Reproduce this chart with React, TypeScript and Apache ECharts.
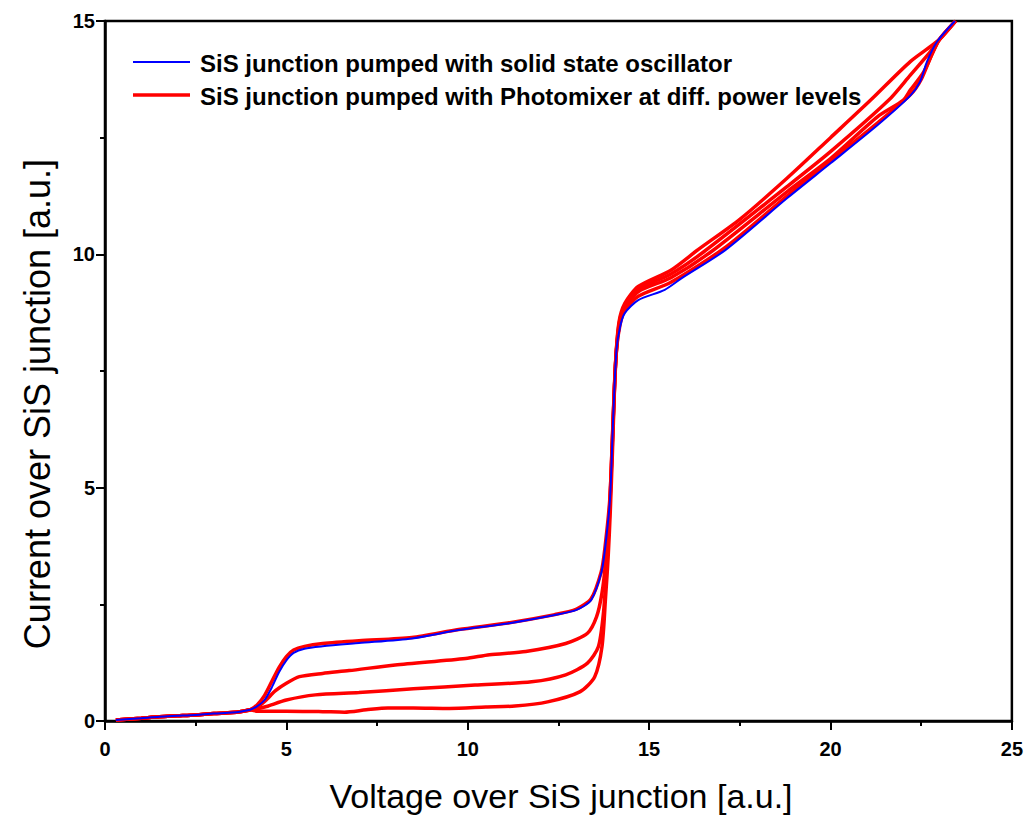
import React, { useEffect, useRef } from "react";
import * as echarts from "echarts";

const xTicks = [0, 5, 10, 15, 20, 25];
const yTicks = [0, 5, 10, 15];

const xTitle = "Voltage over SiS junction [a.u.]";
const yTitle = "Current over SiS junction [a.u.]";
const legendBlue = "SiS junction pumped with solid state oscillator";
const legendRed = "SiS junction pumped with Photomixer at diff. power levels";

const commonStart: number[][] = [
  [0.3, 0.02], [1.0, 0.06], [1.5, 0.09], [2.0, 0.11], [2.5, 0.13], [3.0, 0.16],
  [3.5, 0.18], [3.8, 0.21], [4.0, 0.24],
];

const bluePumped: number[][] = [
  [4.2, 0.32], [4.4, 0.45], [4.6, 0.72], [4.8, 1.05], [5.0, 1.3], [5.2, 1.46],
  [5.5, 1.55], [6.0, 1.6], [7.0, 1.67], [8.46, 1.77], [9.75, 1.95], [11.1, 2.09],
  [12.4, 2.27], [13.0, 2.38], [13.4, 2.59], [13.68, 3.17], [13.78, 3.66],
  [13.92, 4.74], [14.01, 6.52], [14.1, 7.95], [14.2, 8.45], [14.33, 8.74],
  [14.7, 9.02], [15.43, 9.24], [15.9, 9.49], [17.1, 10.09], [18.8, 11.2],
  [20.0, 11.95], [21.3, 12.77], [22.2, 13.4], [22.47, 13.7], [22.66, 14.13],
  [22.94, 14.56], [23.43, 15.0],
];

const redLevel1: number[][] = [
  [4.2, 0.35], [4.4, 0.55], [4.6, 0.85], [4.8, 1.15], [5.0, 1.38], [5.2, 1.52],
  [5.5, 1.6], [6.0, 1.66], [7.0, 1.72], [8.46, 1.79], [9.75, 1.96], [11.1, 2.1],
  [12.4, 2.28], [13.0, 2.4], [13.4, 2.62], [13.68, 3.2], [13.78, 3.7],
  [13.92, 4.8], [14.01, 6.5], [14.1, 7.95], [14.2, 8.5], [14.33, 8.8],
  [14.7, 9.1], [15.6, 9.4], [17.1, 10.15], [18.8, 11.25], [20.0, 12.0],
  [21.3, 12.82], [22.2, 13.42], [22.5, 13.75], [22.8, 14.3], [23.0, 14.6], [23.45, 15.0],
];

const redLevel2: number[][] = [
  [4.2, 0.3], [4.4, 0.42], [4.7, 0.65], [5.0, 0.81], [5.36, 0.95], [6.0, 1.02],
  [6.73, 1.08], [8.0, 1.2], [9.94, 1.34], [10.6, 1.42], [11.6, 1.49], [12.7, 1.66],
  [13.3, 1.88], [13.55, 2.23], [13.7, 2.74], [13.8, 3.4], [13.9, 4.4], [13.98, 5.9],
  [14.07, 7.6], [14.17, 8.45], [14.33, 8.85], [14.7, 9.2], [15.6, 9.5],
  [16.7, 10.05], [18.8, 11.34], [20.0, 12.05], [21.3, 12.95], [22.0, 13.3],
  [22.2, 13.52], [22.57, 13.91], [23.0, 14.6], [23.45, 15.0],
];

const redLevel3: number[][] = [
  [4.2, 0.26], [4.45, 0.31], [5.0, 0.45], [5.8, 0.56], [7.0, 0.61], [8.5, 0.69],
  [10.2, 0.77], [11.76, 0.84], [12.7, 0.99], [13.3, 1.24], [13.6, 1.59],
  [13.74, 2.31], [13.82, 3.2], [13.9, 4.3], [13.98, 5.8], [14.07, 7.6],
  [14.17, 8.5], [14.33, 8.9], [14.7, 9.25], [15.6, 9.58], [16.5, 10.05],
  [18.8, 11.45], [20.0, 12.2], [21.6, 13.3], [22.2, 13.84], [22.75, 14.34],
  [23.0, 14.6], [23.45, 15.0],
];

const redLevel4: number[][] = [
  [4.2, 0.21], [5.0, 0.21], [6.0, 0.2], [6.6, 0.19], [7.2, 0.24], [7.8, 0.28],
  [8.5, 0.28], [9.5, 0.27], [10.5, 0.3], [11.3, 0.32], [12.2, 0.41], [13.1, 0.63],
  [13.5, 0.95], [13.7, 1.59], [13.8, 2.66], [13.87, 3.5], [13.93, 4.5],
  [13.99, 5.8], [14.07, 7.6], [14.17, 8.55], [14.33, 8.95], [14.7, 9.31],
  [15.6, 9.66], [16.35, 10.1], [17.5, 10.75], [18.8, 11.63], [20.0, 12.5],
  [21.1, 13.3], [22.2, 14.13], [23.0, 14.6], [23.45, 15.0],
];

const font = "'Liberation Sans', Arial, sans-serif";

export default function App() {
  const ref = useRef<HTMLDivElement>(null);
  useEffect(() => {
    if (!ref.current) return;
    const chart = echarts.init(ref.current, undefined, { renderer: "svg" });
    const lineBase = {
      type: "line",
      showSymbol: false,
      symbol: "none",
      smooth: 0.25,
    };
    const redSeries = [redLevel1, redLevel2, redLevel3, redLevel4].map((d) => ({
      ...lineBase,
      name: legendRed,
      data: [...commonStart, ...d],
      lineStyle: { color: "#ff0000", width: 3.5 },
      itemStyle: { color: "#ff0000" },
    }));
    chart.setOption({
      animation: false,
      backgroundColor: "#ffffff",
      grid: {
        left: 105, right: 10, top: 21, bottom: 97,
        show: true, borderColor: "#000", borderWidth: 2.5,
      },
      graphic: [
        { type: "line", shape: { x1: 133, y1: 62, x2: 190, y2: 62 }, style: { stroke: "#0000ff", lineWidth: 2 } },
        { type: "line", shape: { x1: 133, y1: 95, x2: 190, y2: 95 }, style: { stroke: "#ff0000", lineWidth: 3.5 } },
        {
          type: "text", x: 200, y: 63,
          style: { text: legendBlue, fontFamily: font, fontWeight: "bold", fontSize: 24, fill: "#000", align: "left", verticalAlign: "middle" },
        },
        {
          type: "text", x: 200, y: 96,
          style: { text: legendRed, fontFamily: font, fontWeight: "bold", fontSize: 24, fill: "#000", align: "left", verticalAlign: "middle" },
        },
        {
          type: "text", x: 561, y: 796,
          style: { text: xTitle, fontFamily: font, fontSize: 34, fill: "#000", align: "center", verticalAlign: "middle" },
        },
        {
          type: "text", x: 37, y: 404, rotation: Math.PI / 2,
          style: { text: yTitle, fontFamily: font, fontSize: 36, fill: "#000", align: "center", verticalAlign: "middle" },
        },
      ],
      xAxis: {
        type: "value",
        min: 0, max: 25, interval: 5,
        axisLine: { show: true, onZero: false, lineStyle: { color: "#000", width: 2.5 } },
        axisTick: { show: true, inside: false, length: 9, lineStyle: { color: "#000", width: 2 } },
        minorTick: { show: true, splitNumber: 2, length: 5, lineStyle: { color: "#000", width: 2 } },
        splitLine: { show: false },
        axisLabel: {
          margin: 18,
          fontFamily: font, fontWeight: "bold", fontSize: 20, color: "#000",
          formatter: (v: number) => (xTicks.includes(v) ? String(v) : ""),
        },
      },
      yAxis: {
        type: "value",
        min: 0, max: 15, interval: 5,
        axisLine: { show: true, onZero: false, lineStyle: { color: "#000", width: 2.5 } },
        axisTick: { show: true, inside: false, length: 9, lineStyle: { color: "#000", width: 2 } },
        minorTick: { show: true, splitNumber: 2, length: 5, lineStyle: { color: "#000", width: 2 } },
        splitLine: { show: false },
        axisLabel: {
          margin: 10,
          fontFamily: font, fontWeight: "bold", fontSize: 20, color: "#000",
          formatter: (v: number) => (yTicks.includes(v) ? String(v) : ""),
        },
      },
      series: [
        ...redSeries,
        {
          ...lineBase,
          name: legendBlue,
          data: [...commonStart, ...bluePumped],
          lineStyle: { color: "#0000ff", width: 2 },
          itemStyle: { color: "#0000ff" },
        },
      ],
    });
    return () => chart.dispose();
  }, []);
  return (
    <div
      ref={ref}
      style={{ position: "fixed", left: 0, top: 0, width: 1026, height: 818, background: "#fff" }}
    />
  );
}
